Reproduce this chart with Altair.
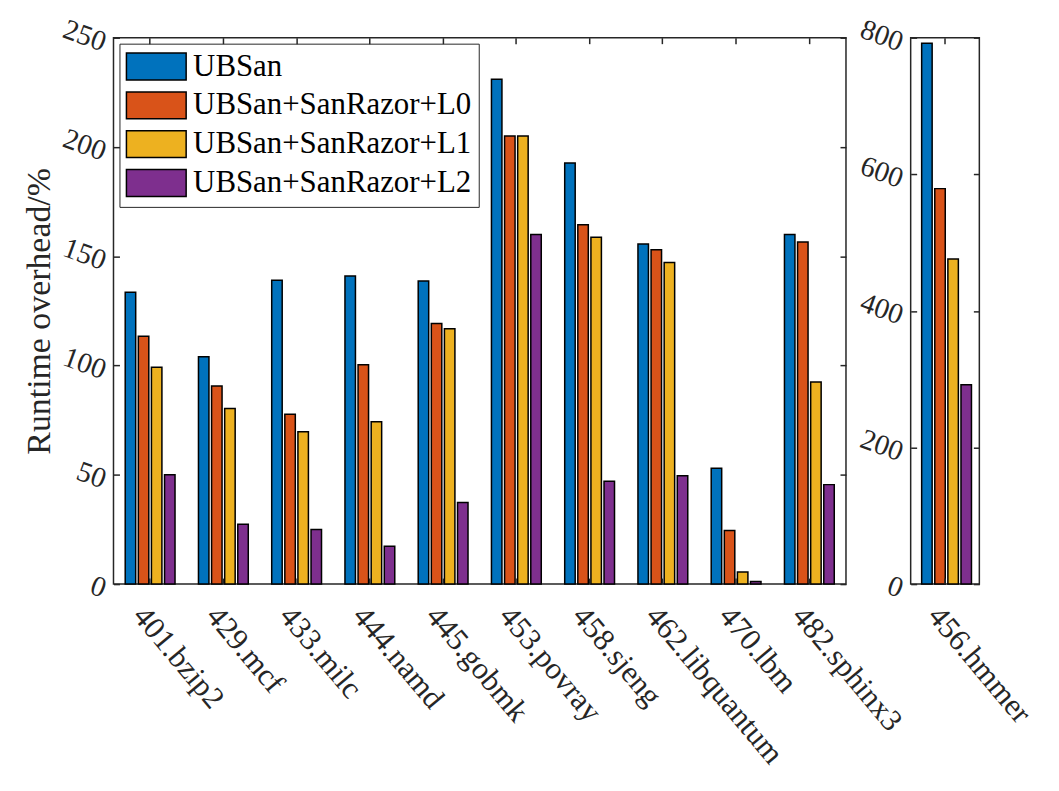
import altair as alt
import pandas as pd

benchmarks = ["401.bzip2", "429.mcf", "433.milc", "444.namd", "445.gobmk",
              "453.povray", "458.sjeng", "462.libquantum", "470.lbm", "482.sphinx3"]
series = ["UBSan", "UBSan+SanRazor+L0", "UBSan+SanRazor+L1", "UBSan+SanRazor+L2"]
ubsan = [133.5, 104.0, 139.0, 141.0, 138.7, 231.0, 192.7, 155.6, 53.0, 160.0]
san_l0 = [113.4, 90.6, 77.7, 100.3, 119.2, 205.0, 164.4, 153.0, 24.5, 156.5]
san_l1 = [99.2, 80.3, 69.7, 74.3, 116.8, 205.0, 158.7, 147.1, 5.5, 92.5]
san_l2 = [50.0, 27.4, 25.0, 17.3, 37.3, 160.0, 47.0, 49.6, 1.2, 45.5]
hmmer_name = ["456.hmmer"]
hmmer_vals = [792.0, 579.0, 476.0, 292.0]
colors = ["#0072BD", "#D95319", "#EDB120", "#7E2F8E"]
left_ticks = [0, 50, 100, 150, 200, 250]
right_ticks = [0, 200, 400, 600, 800]

rows = []
for i, b in enumerate(benchmarks):
    for s, vals in zip(series, [ubsan, san_l0, san_l1, san_l2]):
        rows.append({"bench": b, "series": s, "value": vals[i]})
left_df = pd.DataFrame(rows)
right_df = pd.DataFrame([{"bench": hmmer_name[0], "series": s, "value": v}
                         for s, v in zip(series, hmmer_vals)])

FONT = "Liberation Serif"
INK = "#262626"
H = 549


def panel(df, cats, domain, ticks, width, title, show_legend):
    xscale = alt.Scale(paddingInner=0.32, paddingOuter=0.16)
    yscale = alt.Scale(domain=domain, nice=False)
    if show_legend:
        legend = alt.Legend(
            title=None, orient="top-left", offset=6,
            symbolType="M-2,-0.9H2V0.9H-2Z", symbolSize=900,
            symbolOffset=14,
            symbolStrokeColor="black", symbolStrokeWidth=1.5,
            labelFont=FONT, labelFontSize=31, labelColor="black",
            labelLimit=500, labelOffset=21, rowPadding=5, padding=7,
            strokeColor=INK, fillColor="white",
        )
    else:
        legend = None
    bars = alt.Chart(df).mark_bar(stroke="black", strokeWidth=1.5).encode(
        x=alt.X("bench:N", sort=cats, scale=xscale,
                axis=alt.Axis(orient="bottom", title=None, labelAngle=50,
                              labelAlign="left", labelBaseline="top",
                              labelFontSize=31,
                              labelPadding=17, offset=-6, tickSize=6,
                              domain=False, labelLimit=500, zindex=1)),
        xOffset=alt.XOffset("series:N", sort=series,
                            scale=alt.Scale(paddingInner=0.2)),
        y=alt.Y("value:Q", scale=yscale, stack=None,
                axis=alt.Axis(orient="left", values=ticks, title=title,
                              offset=-6, tickSize=6, domain=False,
                              labelAngle=20, labelAlign="right",
                              labelFontSize=29,
                              labelBaseline="middle", labelPadding=9,
                              labelOffset=5, zindex=1)),
        color=alt.Color("series:N", sort=series,
                        scale=alt.Scale(domain=series, range=colors),
                        legend=legend),
    )
    ghost = alt.Chart(df).mark_bar(opacity=0, clip=True).encode(
        x=alt.X("bench:N", sort=cats, scale=xscale,
                axis=alt.Axis(orient="top", labels=False, title=None,
                              offset=-6, tickSize=6, domain=False, zindex=1)),
        y=alt.Y("value:Q", scale=yscale, stack=None,
                axis=alt.Axis(orient="right", values=ticks, labels=False,
                              title=None, offset=-6, tickSize=6,
                              domain=False, zindex=1)),
    )
    return alt.layer(bars, ghost).resolve_axis(
        x="independent", y="independent").properties(width=width, height=H)


left = panel(left_df, benchmarks, [0, 250], left_ticks, 736,
             "Runtime overhead/%", True)
right = panel(right_df, hmmer_name, [0, 800], right_ticks, 69, None, False)

chart = alt.hconcat(left, right, spacing=65, bounds="flush").resolve_scale(
    color="independent"
).properties(
    background="white",
    padding={"left": 14, "top": 4, "right": 14, "bottom": 0},
).configure_view(
    stroke=INK, strokeWidth=1.5
).configure_axis(
    labelFont=FONT, labelColor=INK,
    titleFont=FONT, titleFontSize=34, titleFontWeight="normal", titleColor=INK,
    tickColor=INK, tickWidth=1.5, grid=False, titlePadding=2,
).configure_legend(
    labelFont=FONT,
)

chart.save("out.html", embed_options={"renderer": "svg", "actions": False})
